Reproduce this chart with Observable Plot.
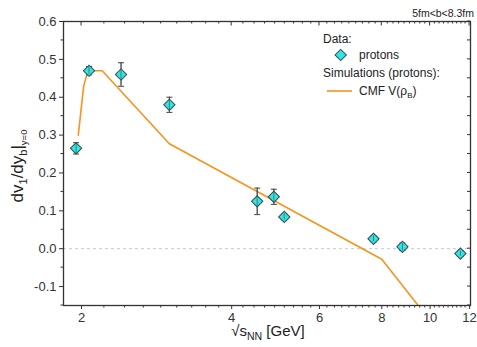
<!DOCTYPE html>
<html>
<head>
<meta charset="utf-8">
<script src="https://cdn.jsdelivr.net/npm/d3@7"></script>
<script src="https://cdn.jsdelivr.net/npm/@observablehq/plot@0.6"></script>
<style>
  html, body { margin: 0; padding: 0; background: #fff; }
  svg { font-family: "Liberation Sans", Arial, sans-serif; }
</style>
</head>
<body>
<div id="chart"></div>
<script>
// Data
const energy = [1.95, 2.07, 2.4, 3.0, 4.5, 4.86, 5.1, 7.7, 8.8, 11.5];
const dvdy   = [0.265, 0.47, 0.46, 0.38, 0.125, 0.137, 0.084, 0.026, 0.005, -0.013];
const dvdyErr = [0.015, 0.011, 0.031, 0.02, 0.035, 0.02, 0.008, 0.008, 0.01, 0.007];

const cmfE = [1.97, 2.02, 2.06, 2.2, 3.0, 8.0, 10.0];
const cmfV = [0.30, 0.43, 0.47, 0.47, 0.277, -0.028, -0.19];

const xMajor = [2, 4, 6, 8, 10, 12];
const yMajor = [-0.1, 0.0, 0.1, 0.2, 0.3, 0.4, 0.5, 0.6];
const yMinor = [-0.15, -0.05, 0.05, 0.15, 0.25, 0.35, 0.45, 0.55];

// minor x ticks: 8 subdivisions between consecutive major ticks
const xMinor = [];
for (let i = 0; i < xMajor.length - 1; i++) {
  for (let k = 1; k < 9; k++) xMinor.push(xMajor[i] + (xMajor[i+1] - xMajor[i]) * k / 9);
}

const points = energy.map((e, i) => ({e, v: dvdy[i], lo: dvdy[i] - dvdyErr[i], hi: dvdy[i] + dvdyErr[i]}));
const cmf = cmfE.map((e, i) => ({e, v: cmfV[i]}));

const capSymbol = { draw(ctx, size) { ctx.moveTo(-3, 0); ctx.lineTo(3, 0); } };

const axisColor = "#333";
const W = 477, H = 347, ML = 63, MR = 7, MT = 21, MB = 42;
const chart = Plot.plot({
  width: W,
  height: H,
  marginLeft: ML,
  marginRight: MR,
  marginTop: MT,
  marginBottom: MB,
  style: {fontFamily: "'Liberation Sans', Arial, sans-serif", fontSize: "13px", color: axisColor, background: "#fff"},
  x: {type: "log", domain: [1.84, 12.05]},
  y: {domain: [-0.15, 0.6]},
  marks: [
    Plot.ruleY([0], {stroke: "#c8c8c8", strokeDasharray: "3,3", strokeWidth: 1}),
    Plot.line(cmf, {x: "e", y: "v", stroke: "#f7931e", strokeWidth: 1.6, clip: true}),
    Plot.ruleX(points, {x: "e", y1: "lo", y2: "hi", stroke: "#444", strokeWidth: 1}),
    Plot.dot(points, {x: "e", y: "lo", symbol: capSymbol, stroke: "#444", strokeWidth: 1}),
    Plot.dot(points, {x: "e", y: "hi", symbol: capSymbol, stroke: "#444", strokeWidth: 1}),
    Plot.dot(points, {x: "e", y: "v", symbol: "square", r: 4.5, rotate: 45, fill: "#2ee6e6", stroke: "#3a4a4a", strokeWidth: 1}),
    Plot.ruleX(points, {x: "e", y1: "lo", y2: "hi", stroke: "#3a4a4a", strokeWidth: 0.8, strokeOpacity: 0.8}),
    Plot.axisX({ticks: xMajor, tickSize: 4, tickFormat: d => String(d), label: null, fontSize: 13, tickPadding: 3, stroke: axisColor}),
    Plot.axisY({ticks: yMajor, tickSize: 4, tickFormat: d => d.toFixed(1), label: null, fontSize: 13, tickPadding: 3, stroke: axisColor}),
    Plot.frame({stroke: axisColor, strokeWidth: 1.3})
  ]
});

document.getElementById("chart").appendChild(chart);

const sx = chart.scale("x"), sy = chart.scale("y");
const svg = d3.select(chart);
const ff = "'Liberation Sans', Arial, sans-serif";

// extra ticks (minor, top, right)
const tk = svg.append("g").attr("stroke", axisColor).attr("stroke-width", 1);
const pBottom = H - MB, pTop = MT, pLeft = ML, pRight = W - MR;
xMinor.forEach(v => {
  const x = sx.apply(v);
  tk.append("line").attr("x1", x).attr("x2", x).attr("y1", pBottom).attr("y2", pBottom + 2.5);
  tk.append("line").attr("x1", x).attr("x2", x).attr("y1", pTop).attr("y2", pTop + 2.5);
});
xMajor.forEach(v => {
  const x = sx.apply(v);
  tk.append("line").attr("x1", x).attr("x2", x).attr("y1", pTop).attr("y2", pTop + 4.5);
});
yMinor.forEach(v => {
  const y = sy.apply(v);
  tk.append("line").attr("x1", pLeft - 2.5).attr("x2", pLeft).attr("y1", y).attr("y2", y);
});
yMajor.concat(yMinor).forEach(v => {
  const y = sy.apply(v);
  tk.append("line").attr("x1", pRight - 3).attr("x2", pRight).attr("y1", y).attr("y2", y);
});

// Annotations, legend and axis titles
const g = svg.append("g").attr("font-family", ff).attr("fill", "#222").attr("text-anchor", "start");

g.append("text").attr("x", 474).attr("y", 16.5).attr("text-anchor", "end")
  .attr("font-size", 10.5).text("5fm<b<8.3fm");

// legend
g.append("text").attr("x", 323).attr("y", 43).attr("font-size", 12).text("Data:");
g.append("path").attr("d", d3.symbol(d3.symbolSquare, 64)())
  .attr("transform", "translate(340.7,55) rotate(45)")
  .attr("fill", "#2ee6e6").attr("stroke", "#3a4a4a").attr("stroke-width", 1);
g.append("text").attr("x", 359).attr("y", 59).attr("font-size", 12).text("protons");
g.append("text").attr("x", 323).attr("y", 77).attr("font-size", 12).text("Simulations (protons):");
g.append("line").attr("x1", 327).attr("x2", 352).attr("y1", 91).attr("y2", 91)
  .attr("stroke", "#f7931e").attr("stroke-width", 1.6);
const cmfT = g.append("text").attr("x", 359).attr("y", 95).attr("font-size", 12);
cmfT.append("tspan").text("CMF V(ρ");
cmfT.append("tspan").attr("font-size", 8).attr("dy", 3).text("B");
cmfT.append("tspan").attr("dy", -3).text(")");

// x title
const xt = g.append("text").attr("x", 268).attr("y", 336).attr("text-anchor", "middle").attr("font-size", 15);
xt.append("tspan").text("√s");
xt.append("tspan").attr("font-size", 10.5).attr("dy", 4).text("NN");
xt.append("tspan").attr("dy", -4).text(" [GeV]");

// y title
const yt = g.append("text").attr("transform", "translate(23,166) rotate(-90)").attr("text-anchor", "middle").attr("font-size", 17);
yt.append("tspan").text("dv");
yt.append("tspan").attr("font-size", 11).attr("dy", 4).text("1");
yt.append("tspan").attr("dy", -4).text("/dy");
yt.append("tspan").attr("font-size", 11).attr("dy", 4).text("b");
yt.append("tspan").attr("dy", -4).text("|");
yt.append("tspan").attr("font-size", 9.5).attr("dy", 4).text("y=0");
</script>
</body>
</html>
